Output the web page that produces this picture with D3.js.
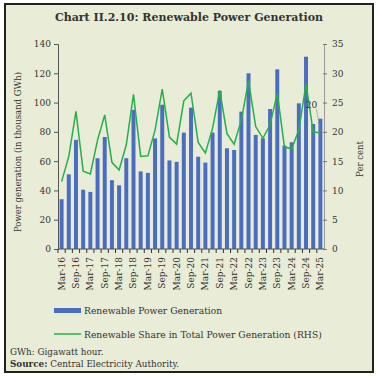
<!DOCTYPE html>
<html>
<head>
<meta charset="utf-8">
<script src="https://cdn.jsdelivr.net/npm/d3@7"></script>
<style>
  body { margin: 0; background: #fff; }
  text { font-family: "DejaVu Serif", serif; fill: #333; }
</style>
</head>
<body>
<script>
var width = 378,
    height = 377;

// quarterly periods, Mar-16 .. Mar-25
var periods = ["Mar-16","Jun-16","Sep-16","Dec-16","Mar-17","Jun-17","Sep-17","Dec-17",
  "Mar-18","Jun-18","Sep-18","Dec-18","Mar-19","Jun-19","Sep-19","Dec-19",
  "Mar-20","Jun-20","Sep-20","Dec-20","Mar-21","Jun-21","Sep-21","Dec-21",
  "Mar-22","Jun-22","Sep-22","Dec-22","Mar-23","Jun-23","Sep-23","Dec-23",
  "Mar-24","Jun-24","Sep-24","Dec-24","Mar-25"];
// thousand GWh
var generation = [34, 51, 74.5, 40.5, 39, 62, 76.5, 47, 43.5, 62, 95, 53, 52, 75.5, 98.5, 60.5,
  59.5, 79.5, 96.5, 63, 59, 79.5, 108, 68.8, 67.6, 93.8, 120, 77.9, 75.6, 95.6, 122.7, 70.6,
  72.9, 99.5, 131.3, 85.4, 89];
// per cent (RHS)
var share = [11.5, 15.8, 23.5, 13.3, 12.8, 18.6, 22.9, 14.8, 13.5, 17.8, 26.4, 15.8, 15.9, 20.3, 27.3, 19.1,
  17.9, 25.3, 26.6, 18.2, 16.4, 20.6, 27.1, 19.7, 17.9, 22.0, 28.7, 20.9, 18.9, 21.2, 26.6, 17.4,
  17.1, 20.3, 28.2, 20.0, 19.8];
var leftTicks = [0, 20, 40, 60, 80, 100, 120, 140];
var rightTicks = [0, 5, 10, 15, 20, 25, 30, 35];
var xTickLabels = periods.filter(function(d, i) { return i % 2 === 0; });

var barColor = "#4a6dc2",
    lineColor = "#25b04a",
    bg = "#e9ecd6";

var svg = d3.select("body").append("svg")
    .attr("width", width)
    .attr("height", height);

svg.append("rect")
    .attr("x", 5).attr("y", 4)
    .attr("width", 368).attr("height", 368)
    .attr("fill", bg)
    .attr("stroke", "#222")
    .attr("stroke-width", 2);

svg.append("text")
    .attr("x", 189).attr("y", 21)
    .attr("text-anchor", "middle")
    .style("font-size", "11px")
    .style("font-weight", "bold")
    .text("Chart II.2.10: Renewable Power Generation");

var x = d3.scaleBand()
    .domain(periods)
    .range([58, 324])
    .paddingInner(0.45)
    .paddingOuter(0.225);

var y = d3.scaleLinear().domain([0, 140]).range([249, 44]);
var y2 = d3.scaleLinear().domain([0, 35]).range([249, 44]);

// bars
svg.append("g").selectAll("rect")
    .data(generation)
  .enter().append("rect")
    .attr("x", function(d, i) { return x(periods[i]); })
    .attr("y", function(d) { return y(d); })
    .attr("width", x.bandwidth())
    .attr("height", function(d) { return y(0) - y(d); })
    .attr("fill", barColor);

// left axis
var leftAxis = svg.append("g")
    .attr("transform", "translate(58,0)")
    .call(d3.axisLeft(y).tickValues(leftTicks).tickSize(4).tickPadding(3));
leftAxis.select(".domain").attr("stroke", "#555");
leftAxis.selectAll(".tick line").attr("stroke", "#555");
leftAxis.selectAll("text").style("font-size", "9px").attr("fill", "#333");

// right axis
var rightAxis = svg.append("g")
    .attr("transform", "translate(324,0)")
    .call(d3.axisRight(y2).tickValues(rightTicks).tickSize(3).tickPadding(5));
rightAxis.select(".domain").attr("stroke", "#999");
rightAxis.selectAll(".tick line").attr("stroke", "#777").attr("x1", -1);
rightAxis.selectAll("text").style("font-size", "9px").attr("fill", "#333");

// bottom axis: ticks at band edges, labels on every other bar
var bottom = svg.append("g").attr("transform", "translate(0,249)");
bottom.append("line")
    .attr("x1", 58).attr("x2", 324)
    .attr("stroke", "#555");
bottom.selectAll(".edge")
    .data(periods)
  .enter().append("line")
    .attr("x1", function(d) { return x(d) - x.step() * x.paddingInner() / 2; })
    .attr("x2", function(d) { return x(d) - x.step() * x.paddingInner() / 2; })
    .attr("y1", 0).attr("y2", 4)
    .attr("stroke", "#333");
bottom.selectAll(".lbl")
    .data(xTickLabels)
  .enter().append("text")
    .attr("transform", function(d) {
      return "translate(" + (x(d) + x.bandwidth() / 2 + 3) + ",8) rotate(-90)";
    })
    .attr("text-anchor", "end")
    .style("font-size", "9px")
    .text(function(d) { return d; });

// share line
var line = d3.line()
    .x(function(d, i) { return x(periods[i]) + x.bandwidth() / 2; })
    .y(function(d) { return y2(d); });

svg.append("path")
    .datum(share)
    .attr("fill", "none")
    .attr("stroke", lineColor)
    .attr("stroke-width", 1.5)
    .attr("d", line);

// data label on last point
var lastX = x(periods[periods.length - 1]) + x.bandwidth() / 2;
svg.append("line")
    .attr("x1", lastX - 4).attr("y1", 109)
    .attr("x2", lastX).attr("y2", y2(share[share.length - 1]) - 2)
    .attr("stroke", "#888").attr("stroke-width", 0.6);
svg.append("text")
    .attr("x", lastX - 9).attr("y", 108)
    .attr("text-anchor", "middle")
    .style("font-size", "9px")
    .text("20");

// axis titles
svg.append("text")
    .attr("transform", "translate(21,152) rotate(-90)")
    .attr("text-anchor", "middle")
    .style("font-size", "8.5px")
    .text("Power generation (in thousand GWh)");
svg.append("text")
    .attr("transform", "translate(363,159) rotate(-90)")
    .attr("text-anchor", "middle")
    .style("font-size", "8.5px")
    .text("Per cent");

// legend
var legend = svg.append("g");
legend.append("rect")
    .attr("x", 54).attr("y", 308)
    .attr("width", 27).attr("height", 5)
    .attr("fill", barColor);
legend.append("text")
    .attr("x", 84).attr("y", 314)
    .style("font-size", "9.2px")
    .text("Renewable Power Generation");
legend.append("line")
    .attr("x1", 54).attr("x2", 81)
    .attr("y1", 334).attr("y2", 334)
    .attr("stroke", lineColor).attr("stroke-width", 1.5);
legend.append("text")
    .attr("x", 84).attr("y", 338)
    .style("font-size", "9.2px")
    .text("Renewable Share in Total Power Generation (RHS)");

// notes
svg.append("text")
    .attr("x", 10).attr("y", 355)
    .style("font-size", "8.8px")
    .text("GWh: Gigawatt hour.");
var src = svg.append("text")
    .attr("x", 10).attr("y", 367)
    .style("font-size", "8.8px");
src.append("tspan").style("font-weight", "bold").text("Source:");
src.append("tspan").text(" Central Electricity Authority.");
</script>
</body>
</html>
